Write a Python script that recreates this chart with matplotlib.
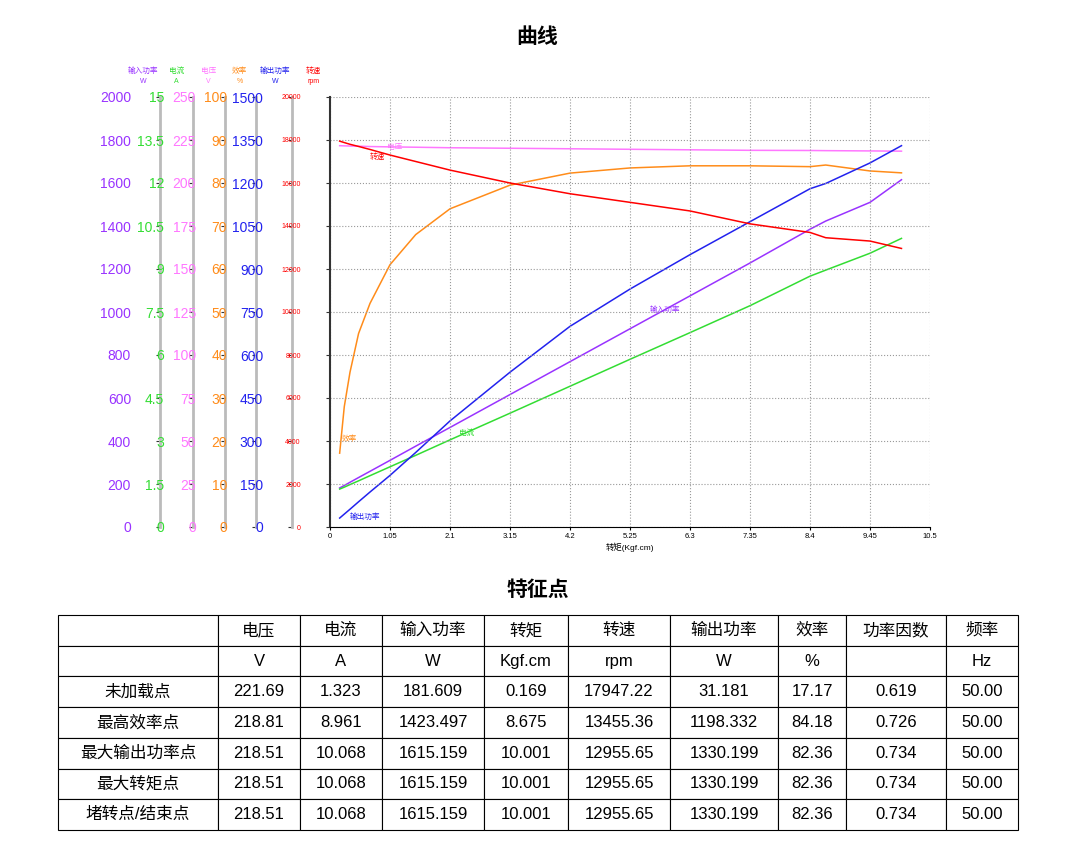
import matplotlib
matplotlib.use("Agg")
import matplotlib.pyplot as plt
import numpy as np

plt.rcParams['font.family'] = ['Liberation Sans', 'Noto Sans CJK SC', 'DejaVu Sans']

torque = [0.169, 0.25, 0.35, 0.5, 0.7, 1.05, 1.5, 2.1, 3.15, 4.2, 5.25, 6.3, 7.35, 8.4, 8.675, 9.45, 10.001]
speed = [17947, 17880, 17800, 17700, 17560, 17300, 17000, 16600, 16000, 15500, 15100, 14700, 14100, 13700, 13455, 13300, 12956]
eff = [17.17, 28, 36, 45, 52, 61, 68, 74, 79.5, 82.3, 83.5, 84, 84, 83.8, 84.18, 82.8, 82.36]
pin = [181.6, 193, 208, 230, 259, 310, 376, 463, 616, 769, 922, 1075, 1228, 1385, 1423, 1510, 1615.2]
cur = [1.323, 1.39, 1.48, 1.61, 1.79, 2.10, 2.50, 3.04, 3.97, 4.91, 5.85, 6.78, 7.72, 8.75, 8.961, 9.55, 10.068]
pout = [31.2, 45, 62, 88, 122, 180, 260, 370, 540, 700, 830, 950, 1065, 1180, 1198.3, 1270, 1330.2]
volt = [221.69, 221.6, 221.5, 221.4, 221.2, 221.0, 220.8, 220.5, 220.2, 219.9, 219.6, 219.3, 219.0, 218.9, 218.81, 218.65, 218.51]

axis_names = ['输入功率', '电流', '电压', '效率', '输出功率', '转速']
axis_units = ['W', 'A', 'V', '%', 'W', 'rpm']
axis_max = [2000, 15, 250, 100, 1500, 20000]
colors = ['#9933ff', '#33dd33', '#ff77ff', '#ff8c1a', '#2222ee', '#ff0000']
series = [pin, cur, volt, eff, pout, speed]
curve_labels = ['输入功率', '电流', '电压', '效率', '输出功率', '转速']
label_pos = [(5.6, 1000), (2.25, 3.2), (1.0, 220), (0.2, 20), (0.35, 28), (0.7, 17100)]
spine_x = [-0.283, -0.228, -0.175, -0.123, -0.063, 0.0]
xticks = [0, 1.05, 2.1, 3.15, 4.2, 5.25, 6.3, 7.35, 8.4, 9.45, 10.5]
xtick_labels = ['0', '1.05', '2.1', '3.15', '4.2', '5.25', '6.3', '7.35', '8.4', '9.45', '10.5']

fig = plt.figure(figsize=(10.75, 8.55), dpi=100)
fig.text(0.5, 1 - 37/855, '曲线', ha='center', va='center', fontsize=15, fontweight='bold')

ax = fig.add_axes([330/1075, 1 - 527/855, 600/1075, 430/855])
ax.set_xlim(0, 10.5)
ax.set_xticks(xticks)
ax.set_xticklabels(xtick_labels, fontsize=5.5)
ax.set_xlabel('转矩(Kgf.cm)', fontsize=6, labelpad=2)
ax.grid(True, linestyle=':', color='#999999', linewidth=0.8)
for s in ['top', 'right']:
    ax.spines[s].set_visible(False)
ax.tick_params(axis='x', length=2, pad=2)

axes = []
for i in range(6):
    a = ax if i == 5 else ax.twinx()
    a.set_ylim(0, axis_max[i])
    a.yaxis.set_ticks_position('left')
    a.yaxis.set_label_position('left')
    ticks = np.linspace(0, axis_max[i], 11)
    a.set_yticks(ticks)
    a.set_yticklabels([('%g' % t) for t in ticks], fontsize=5, color=colors[i])
    a.tick_params(axis='y', length=3, width=0.8, pad=18, colors='#333333', labelcolor=colors[i])
    for s in ['top', 'right']:
        a.spines[s].set_visible(False)
    if i != 5:
        a.spines['bottom'].set_visible(False)
        a.spines['left'].set_position(('axes', spine_x[i]))
        a.spines['left'].set_color('#bbbbbb')
        a.spines['left'].set_linewidth(2)
    else:
        a.spines['left'].set_color('#333333')
        a.spines['left'].set_linewidth(1.5)
    a.text(spine_x[i] - 0.028, 1.06, axis_names[i], transform=a.transAxes, ha='center', va='center', fontsize=5.5, color=colors[i])
    a.text(spine_x[i] - 0.028, 1.035, axis_units[i], transform=a.transAxes, ha='center', va='center', fontsize=5, color=colors[i])
    a.plot(torque, series[i], color=colors[i], linewidth=1.1)
    a.text(label_pos[i][0], label_pos[i][1], curve_labels[i], fontsize=5.5, color=colors[i])
    axes.append(a)
ax.set_zorder(10)
ax.patch.set_visible(False)

fig.text(0.5, 1 - 590/855, '特征点', ha='center', va='center', fontsize=15, fontweight='bold')

col_headers = ['', '电压', '电流', '输入功率', '转矩', '转速', '输出功率', '效率', '功率因数', '频率']
units_row = ['', 'V', 'A', 'W', 'Kgf.cm', 'rpm', 'W', '%', '', 'Hz']
row_names = ['未加载点', '最高效率点', '最大输出功率点', '最大转矩点', '堵转点/结束点']
voltage_t = ['221.69', '218.81', '218.51', '218.51', '218.51']
current_t = ['1.323', '8.961', '10.068', '10.068', '10.068']
pin_t = ['181.609', '1423.497', '1615.159', '1615.159', '1615.159']
torque_t = ['0.169', '8.675', '10.001', '10.001', '10.001']
speed_t = ['17947.22', '13455.36', '12955.65', '12955.65', '12955.65']
pout_t = ['31.181', '1198.332', '1330.199', '1330.199', '1330.199']
eff_t = ['17.17', '84.18', '82.36', '82.36', '82.36']
pf_t = ['0.619', '0.726', '0.734', '0.734', '0.734']
freq_t = ['50.00', '50.00', '50.00', '50.00', '50.00']

cells = [col_headers, units_row]
for r in range(5):
    cells.append([row_names[r], voltage_t[r], current_t[r], pin_t[r], torque_t[r], speed_t[r],
                  pout_t[r], eff_t[r], pf_t[r], freq_t[r]])

edges = [58, 218, 300, 382, 484, 568, 670, 778, 846, 946, 1018]
widths = [(edges[i+1] - edges[i]) / (edges[-1] - edges[0]) for i in range(10)]
tax = fig.add_axes([58/1075, 1 - 830/855, 960/1075, 215/855])
tax.axis('off')
tbl = tax.table(cellText=cells, colWidths=widths, cellLoc='center', bbox=[0, 0, 1, 1])
tbl.auto_set_font_size(False)
tbl.set_fontsize(12)
for (r, c), cell in tbl.get_celld().items():
    cell.set_linewidth(0.8)
    cell.set_edgecolor('black')

fig.savefig('out.png', dpi=100)
